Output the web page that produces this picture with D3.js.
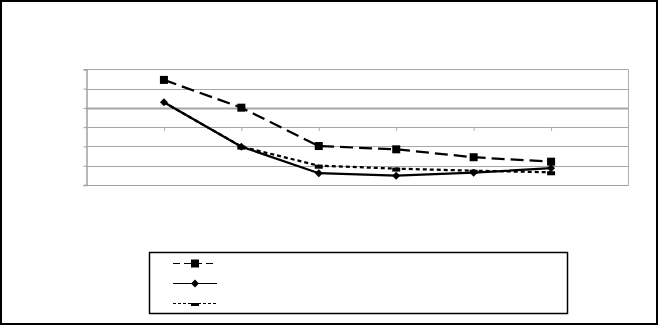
<!DOCTYPE html>
<html><head><meta charset="utf-8">
<script src="https://cdn.jsdelivr.net/npm/d3@7"></script>
<style>html,body{margin:0;padding:0;background:#fff;}svg{display:block;}</style>
</head><body>
<svg id="c" width="658" height="325"></svg>
<script>
const categories = ["1","2","3","4","5","6"];
const yTicks = [0,1,2,3,4,5,6];
const series1 = [5.45, 4.01, 2.02, 1.85, 1.44, 1.21];
const series2 = [4.29, 1.99, 0.61, 0.48, 0.64, 0.87];
const series3 = [4.29, 1.99, 1.00, 0.85, 0.74, 0.66];

const svg = d3.select("#c");
const x = d3.scalePoint().domain(categories).range([86.5, 628.5]).padding(1);
const y = d3.scaleLinear().domain([0, 6]).range([185, 69.3]);

// outer frame
svg.append("rect").attr("x",1).attr("y",1).attr("width",656).attr("height",323)
  .attr("fill","#fff").attr("stroke","#000").attr("stroke-width",2);

// gridlines
const g = svg.append("g");
g.selectAll("line.grid").data(yTicks.slice(1)).join("line")
  .attr("x1",86.5).attr("x2",628.5)
  .attr("y1",d=>Math.round(y(d))+0.5).attr("y2",d=>Math.round(y(d))+0.5)
  .attr("stroke","#a6a6a6").attr("stroke-width",d=>d===4?2:1);
// plot area right border
g.append("line").attr("x1",628.5).attr("x2",628.5).attr("y1",Math.round(y(6))+0.5).attr("y2",185.5)
  .attr("stroke","#b0b0b0").attr("stroke-width",1);
// y axis
const yAxis = d3.axisLeft(y).tickValues(yTicks).tickSize(3).tickFormat("");
const ya = svg.append("g").attr("transform","translate(86.5,0)").call(yAxis);
ya.selectAll("path,line").attr("stroke","#a0a0a0");
ya.select("path").attr("stroke-width",1.5);
// bottom axis line
svg.append("line").attr("x1",86.5).attr("x2",628.5).attr("y1",185.5).attr("y2",185.5)
  .attr("stroke","#a0a0a0").attr("stroke-width",1);
// category ticks
const xAxis = d3.axisBottom(x).tickSize(4).tickFormat("");
const xa = svg.append("g").attr("transform",`translate(0,${Math.round(y(3))})`).call(xAxis);
xa.select("path").remove();
xa.selectAll("line").attr("stroke","#b0b0b0");

const line = d3.line().x((d,i)=>x(categories[i])).y(d=>y(d));

// series 3 (short dash)
svg.append("path").datum(series3).attr("d",line).attr("fill","none")
  .attr("stroke","#000").attr("stroke-width",2.25).attr("stroke-dasharray","4,3");
// series 2 (solid)
svg.append("path").datum(series2).attr("d",line).attr("fill","none")
  .attr("stroke","#000").attr("stroke-width",2.25);
// series 1 (long dash)
svg.append("path").datum(series1).attr("d",line).attr("fill","none")
  .attr("stroke","#000").attr("stroke-width",2.25).attr("stroke-dasharray","13,6");

// markers
svg.selectAll("rect.m3").data(series3.slice(1)).join("rect")
  .attr("x",(d,i)=>x(categories[i+1])-4).attr("y",d=>y(d)-1).attr("width",8).attr("height",4).attr("fill","#000");
svg.selectAll("path.m2").data(series2).join("path")
  .attr("transform",(d,i)=>`translate(${x(categories[i])},${y(d)})`)
  .attr("d","M0,-4L4,0L0,4L-4,0Z").attr("fill","#000");
svg.selectAll("rect.m1").data(series1).join("rect")
  .attr("x",(d,i)=>x(categories[i])-4).attr("y",d=>y(d)-4).attr("width",8).attr("height",8).attr("fill","#000");

// legend
svg.append("rect").attr("x",149.5).attr("y",252.5).attr("width",418).attr("height",61)
  .attr("fill","#fff").attr("stroke","#000").attr("stroke-width",1.5);
const lg = svg.append("g");
const rows = [263.5, 283.5, 303.5];
lg.append("line").attr("x1",173).attr("x2",217).attr("y1",rows[0]).attr("y2",rows[0])
  .attr("stroke","#000").attr("stroke-width",1).attr("stroke-dasharray","7,4");
lg.append("rect").attr("x",191).attr("y",rows[0]-4).attr("width",8).attr("height",8).attr("fill","#000");
lg.append("line").attr("x1",173).attr("x2",217).attr("y1",rows[1]).attr("y2",rows[1])
  .attr("stroke","#000").attr("stroke-width",1);
lg.append("path").attr("transform",`translate(195,${rows[1]})`).attr("d","M0,-4L4,0L0,4L-4,0Z").attr("fill","#000");
lg.append("line").attr("x1",173).attr("x2",217).attr("y1",rows[2]).attr("y2",rows[2])
  .attr("stroke","#000").attr("stroke-width",1).attr("stroke-dasharray","3,2");
lg.append("rect").attr("x",191).attr("y",rows[2]-0.5).attr("width",8).attr("height",3).attr("fill","#000");
</script>
</body></html>
